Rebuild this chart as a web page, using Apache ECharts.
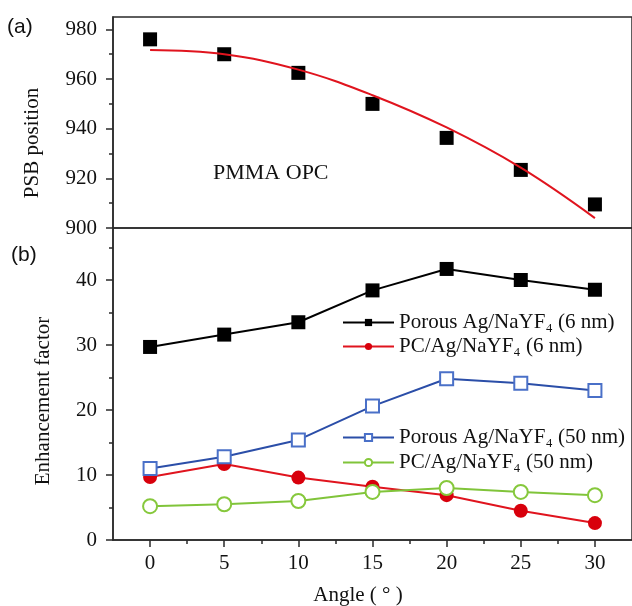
<!DOCTYPE html>
<html>
<head>
<meta charset="utf-8">
<script src="https://cdn.jsdelivr.net/npm/echarts@6/dist/echarts.min.js"></script>
<style>
  html, body { margin: 0; padding: 0; background: #fff; }
  #chart { width: 632px; height: 606px; }
</style>
</head>
<body>
<div id="chart"></div>
<script>
// angles shared by both panels
const angles = [0, 5, 10, 15, 20, 25, 30];

// (a) PSB position of PMMA OPC, measured points + fitted curve
const psbMeasured = [976, 970, 962.5, 950, 936.3, 923.4, 909.5];
const psbFit = [971.7, 970, 963.8, 953.5, 940.5, 924.3, 904];

// (b) enhancement factor
const porous6 = [29.7, 31.6, 33.5, 38.4, 41.7, 40, 38.5];
const pc6 = [9.7, 11.7, 9.6, 8.2, 6.9, 4.5, 2.6];
const porous50 = [11.0, 12.8, 15.4, 20.6, 24.8, 24.1, 23.0];
const pc50 = [5.2, 5.5, 6.0, 7.4, 8.0, 7.4, 6.9];

const xMajor = [0, 5, 10, 15, 20, 25, 30];
const xMinor = [2.5, 7.5, 12.5, 17.5, 22.5, 27.5];
const yTopMajor = [900, 920, 940, 960, 980];
const yTopMinor = [910, 930, 950, 970];
const yBotMajor = [0, 10, 20, 30, 40];
const yBotMinor = [5, 15, 25, 35, 45];

const NAME_P6 = 'Porous Ag/NaYF₄ (6 nm)';
const NAME_C6 = 'PC/Ag/NaYF₄ (6 nm)';
const NAME_P50 = 'Porous Ag/NaYF₄ (50 nm)';
const NAME_C50 = 'PC/Ag/NaYF₄ (50 nm)';

const SERIF = "'Liberation Serif', 'Times New Roman', serif";
const SANS = "'Liberation Sans', Arial, sans-serif";
const AXIS_COLOR = '#2a2a2a';
const TEXT_COLOR = '#111';

const pairs = ys => angles.map((a, i) => [a, ys[i]]);

const chart = echarts.init(document.getElementById('chart'));

const labelStyle = { fontFamily: SERIF, fontSize: 21, color: TEXT_COLOR };

function majorAxisY(grid, min, max, interval, ticks) {
  return {
    type: 'value', gridIndex: grid, min, max, interval, position: 'left',
    axisLine: { show: true, onZero: false, lineStyle: { color: AXIS_COLOR, width: 1.5 } },
    axisTick: { show: true, customValues: ticks, length: 7, lineStyle: { color: AXIS_COLOR, width: 1.5 } },
    axisLabel: Object.assign({ customValues: ticks, margin: 16 }, labelStyle),
    splitLine: { show: false }
  };
}

function minorAxisY(grid, min, max, interval, ticks) {
  return {
    type: 'value', gridIndex: grid, min, max, interval, position: 'left',
    axisLine: { show: false, onZero: false },
    axisTick: { show: true, customValues: ticks, length: 4, lineStyle: { color: AXIS_COLOR, width: 1.5 } },
    axisLabel: { show: false },
    splitLine: { show: false }
  };
}

const option = {
  backgroundColor: '#fff',
  animation: false,
  grid: [
    { left: 113, right: -4, top: 17, height: 211, show: true, borderColor: AXIS_COLOR, borderWidth: 1.5 },
    { left: 113, right: -4, top: 228, height: 312, show: true, borderColor: AXIS_COLOR, borderWidth: 1.5 }
  ],
  xAxis: [
    { type: 'value', gridIndex: 0, min: -2.5, max: 32.5, interval: 2.5, show: false },
    {
      type: 'value', gridIndex: 1, min: -2.5, max: 32.5, interval: 2.5, position: 'bottom',
      axisLine: { show: true, onZero: false, lineStyle: { color: AXIS_COLOR, width: 1.5 } },
      axisTick: { show: true, customValues: xMajor, length: 7, lineStyle: { color: AXIS_COLOR, width: 1.5 } },
      axisLabel: Object.assign({ customValues: xMajor, margin: 13 }, labelStyle),
      splitLine: { show: false }
    },
    {
      type: 'value', gridIndex: 1, min: -2.5, max: 32.5, interval: 2.5, position: 'bottom',
      axisLine: { show: false, onZero: false },
      axisTick: { show: true, customValues: xMinor, length: 4, lineStyle: { color: AXIS_COLOR, width: 1.5 } },
      axisLabel: { show: false },
      splitLine: { show: false }
    }
  ],
  yAxis: [
    majorAxisY(0, 900, 985, 5, yTopMajor),
    majorAxisY(1, 0, 48, 2, yBotMajor),
    minorAxisY(0, 900, 985, 5, yTopMinor),
    minorAxisY(1, 0, 48, 2, yBotMinor)
  ],
  legend: [
    {
      data: [NAME_P6, NAME_C6],
      orient: 'vertical', left: 342, top: 312, padding: 0,
      itemWidth: 51, itemHeight: 9, itemGap: 3, selectedMode: false,
      textStyle: { fontFamily: SERIF, fontSize: 21, color: TEXT_COLOR, lineHeight: 16 }
    },
    {
      data: [NAME_P50, NAME_C50],
      orient: 'vertical', left: 342, top: 427, padding: 0,
      itemWidth: 51, itemHeight: 9, itemGap: 4, selectedMode: false,
      textStyle: { fontFamily: SERIF, fontSize: 21, color: TEXT_COLOR, lineHeight: 16 }
    }
  ],
  graphic: [
    { type: 'text', left: 7, top: 17, style: { text: '(a)', fontFamily: SANS, fontSize: 21, fill: TEXT_COLOR } },
    { type: 'text', left: 11, top: 245, style: { text: '(b)', fontFamily: SANS, fontSize: 21, fill: TEXT_COLOR } },
    { type: 'text', left: 213, top: 162, style: { text: 'PMMA OPC', fontFamily: SERIF, fontSize: 22, fill: TEXT_COLOR } },
    {
      type: 'text', x: 32, y: 143, rotation: Math.PI / 2,
      style: { text: 'PSB position', fontFamily: SERIF, fontSize: 21, fill: TEXT_COLOR, align: 'center', verticalAlign: 'middle' }
    },
    {
      type: 'text', x: 43, y: 401, rotation: Math.PI / 2,
      style: { text: 'Enhancement factor', fontFamily: SERIF, fontSize: 21, fill: TEXT_COLOR, align: 'center', verticalAlign: 'middle' }
    },
    {
      type: 'text', x: 358, y: 595,
      style: { text: 'Angle ( ° )', fontFamily: SERIF, fontSize: 21, fill: TEXT_COLOR, align: 'center', verticalAlign: 'middle' }
    }
  ],
  series: [
    {
      name: 'PSB', type: 'scatter', xAxisIndex: 0, yAxisIndex: 0,
      data: pairs(psbMeasured), symbol: 'rect', symbolSize: 14,
      itemStyle: { color: '#000', opacity: 1 }, z: 2
    },
    {
      name: 'PSB fit', type: 'line', xAxisIndex: 0, yAxisIndex: 0,
      data: pairs(psbFit), smooth: 0.4, showSymbol: false,
      lineStyle: { color: '#e0141e', width: 2 }, z: 3
    },
    {
      name: NAME_P6, type: 'line', xAxisIndex: 1, yAxisIndex: 1,
      data: pairs(porous6), symbol: 'rect', symbolSize: 14,
      lineStyle: { color: '#000', width: 2 }, itemStyle: { color: '#000' }
    },
    {
      name: NAME_C6, type: 'line', xAxisIndex: 1, yAxisIndex: 1,
      data: pairs(pc6), symbol: 'circle', symbolSize: 14,
      lineStyle: { color: '#e0141e', width: 2 }, itemStyle: { color: '#d8000c' }
    },
    {
      name: NAME_P50, type: 'line', xAxisIndex: 1, yAxisIndex: 1,
      data: pairs(porous50), symbol: 'emptyRect', symbolSize: 13,
      lineStyle: { color: '#2b4ea8', width: 2 },
      itemStyle: { color: '#4a70c8', borderWidth: 1.5 }
    },
    {
      name: NAME_C50, type: 'line', xAxisIndex: 1, yAxisIndex: 1,
      data: pairs(pc50), symbol: 'emptyCircle', symbolSize: 14,
      lineStyle: { color: '#80c43a', width: 2 },
      itemStyle: { color: '#86c83c', borderWidth: 1.5 }
    }
  ]
};

chart.setOption(option);
</script>
</body>
</html>
